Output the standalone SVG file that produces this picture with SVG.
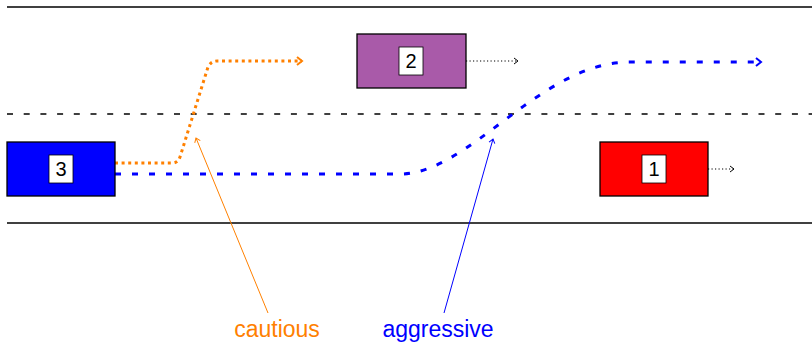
<svg xmlns="http://www.w3.org/2000/svg" width="812" height="343" viewBox="0 0 812 343">
<style>
.road{stroke:#000;stroke-width:1.3;fill:none}
.car{stroke:#000;stroke-width:1.3}
.lbl{fill:#fff;stroke:#000;stroke-width:0.8}
.num{font-family:"Liberation Sans",Arial,sans-serif;font-size:20px;text-anchor:middle;fill:#000}
.note{font-family:"Liberation Sans",Arial,sans-serif;font-size:23px;text-anchor:middle}
</style>
<defs>
<marker id="ao" markerWidth="10" markerHeight="10" refX="7" refY="5" orient="auto" markerUnits="userSpaceOnUse"><path d="M2,1 L7,5 L2,9" fill="none" stroke="#ff8000" stroke-width="2"/></marker>
<marker id="ab" markerWidth="10" markerHeight="10" refX="7" refY="5" orient="auto" markerUnits="userSpaceOnUse"><path d="M2,1 L7,5 L2,9" fill="none" stroke="#0000ff" stroke-width="2"/></marker>
<marker id="ak" markerWidth="8" markerHeight="8" refX="6" refY="4" orient="auto" markerUnits="userSpaceOnUse"><path d="M2,1 L6,4 L2,7" fill="none" stroke="#000" stroke-width="1"/></marker>
<marker id="ato" markerWidth="8" markerHeight="8" refX="6" refY="4" orient="auto" markerUnits="userSpaceOnUse"><path d="M2,1 L6,4 L2,7" fill="none" stroke="#ff8000" stroke-width="1"/></marker>
<marker id="atb" markerWidth="8" markerHeight="8" refX="6" refY="4" orient="auto" markerUnits="userSpaceOnUse"><path d="M2,1 L6,4 L2,7" fill="none" stroke="#0000ff" stroke-width="1"/></marker>
</defs>
<g id="road">
<line class="road" x1="7" y1="7" x2="812" y2="7"/>
<line class="road" x1="7" y1="223" x2="812" y2="223"/>
<line class="road" x1="7" y1="114" x2="812" y2="114" stroke-dasharray="6 10.7"/>
</g>
<g id="connectors">
<path d="M115,163 L172,163 Q178,163 180,157 L208,67 Q211,61 217,61 L302,61" fill="none" stroke="#ff8000" stroke-width="3" stroke-dasharray="3 3.6" marker-end="url(#ao)"/>
<path d="M115,174 L400,174 C470,174 540,62 630,62 L761,62" fill="none" stroke="#0000ff" stroke-width="3" stroke-dasharray="6 11" marker-end="url(#ab)"/>
<path d="M466,61 L518,61" fill="none" stroke="#000" stroke-width="1.2" stroke-dasharray="1.2 2.3" marker-end="url(#ak)"/>
<path d="M708,169 L734,169" fill="none" stroke="#000" stroke-width="1.2" stroke-dasharray="1.2 2.3" marker-end="url(#ak)"/>
<path d="M268,313 L196,138" fill="none" stroke="#ff8000" stroke-width="1" marker-end="url(#ato)"/>
<path d="M444,313 L493,139" fill="none" stroke="#0000ff" stroke-width="1" marker-end="url(#atb)"/>
</g>
<g id="car3">
<rect class="car" x="7" y="142" width="108" height="54" fill="#0000ff"/>
<rect class="lbl" x="49" y="155" width="24" height="28"/>
<text class="num" x="61" y="176">3</text>
</g>
<g id="car2">
<rect class="car" x="357" y="34" width="109" height="54" fill="#a95aa9"/>
<rect class="lbl" x="399" y="47" width="24" height="28"/>
<text class="num" x="411" y="68">2</text>
</g>
<g id="car1">
<rect class="car" x="600" y="142" width="108" height="54" fill="#ff0000"/>
<rect class="lbl" x="642" y="155" width="24" height="28"/>
<text class="num" x="654" y="176">1</text>
</g>
<g id="labels">
<text class="note" x="277" y="337" fill="#ff8000" font-size="24">cautious</text>
<text class="note" x="438" y="337" fill="#0000ff">aggressive</text>
</g>
</svg>
